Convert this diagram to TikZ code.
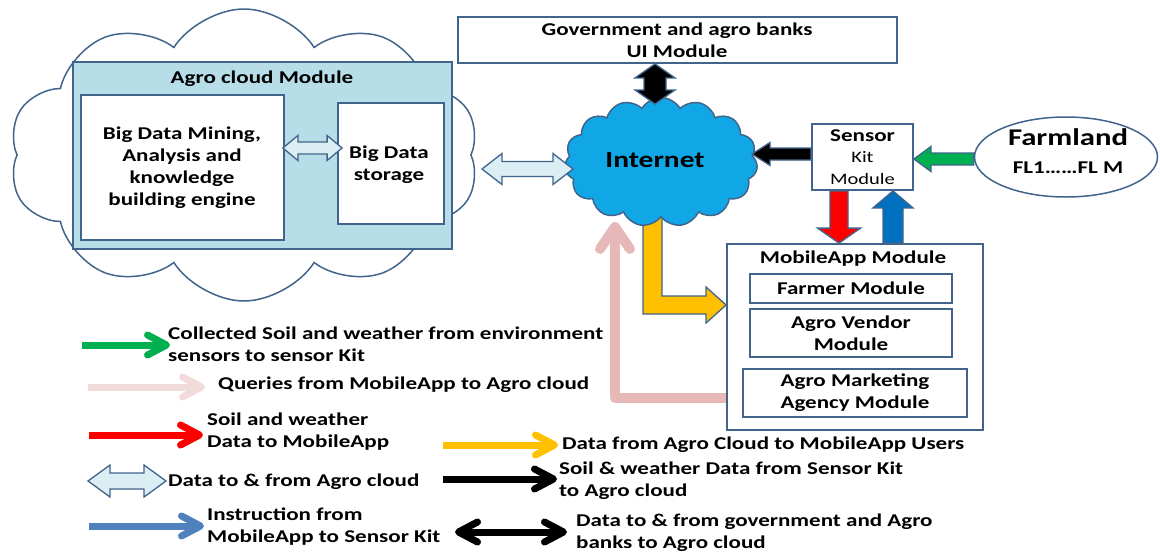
\documentclass[tikz,border=0pt]{standalone}
\usepackage{fontspec}
\setmainfont{Carlito}[FakeStretch=1.28]
\usetikzlibrary{shapes.symbols,shapes.geometric,arrows.meta,calc}
\definecolor{outl}{RGB}{65,100,140}
\definecolor{agrofill}{RGB}{183,222,232}
\definecolor{lbfill}{RGB}{219,238,244}
\definecolor{netblue}{RGB}{17,167,230}
\definecolor{grn}{RGB}{0,176,80}
\definecolor{rd}{RGB}{255,0,0}
\definecolor{upblue}{RGB}{0,112,192}
\definecolor{lgblue}{RGB}{79,129,189}
\definecolor{ylw}{RGB}{255,192,0}
\definecolor{pnk}{RGB}{230,185,184}
\definecolor{ltpnk}{RGB}{242,220,219}
% single block arrow: from, to, shaft half, head half, head length, style
\newcommand\blkarrow[6]{%
  \coordinate (hh) at ($(#2)!#5!(#1)$);
  \filldraw[#6] ($(#1)!#3!90:(#2)$) -- ($(hh)!#3!-90:(#1)$) -- ($(hh)!#4!-90:(#1)$) -- (#2)
    -- ($(hh)!#4!90:(#1)$) -- ($(hh)!#3!90:(#1)$) -- ($(#1)!#3!-90:(#2)$) -- cycle;}
% double block arrow
\newcommand\blkdarrow[6]{%
  \coordinate (ha) at ($(#1)!#5!(#2)$);
  \coordinate (hb) at ($(#2)!#5!(#1)$);
  \filldraw[#6] (#1) -- ($(ha)!#4!90:(#2)$) -- ($(ha)!#3!90:(#2)$) -- ($(hb)!#3!-90:(#1)$)
    -- ($(hb)!#4!-90:(#1)$) -- (#2) -- ($(hb)!#4!90:(#1)$) -- ($(hb)!#3!90:(#1)$)
    -- ($(ha)!#3!-90:(#2)$) -- ($(ha)!#4!-90:(#2)$) -- cycle;}
\tikzset{
  txt/.style={font=\fontsize{18}{22}\selectfont\bfseries, align=center, inner sep=0pt},
  ltxt/.style={font=\fontsize{18}{22}\selectfont\bfseries, align=left, inner sep=0pt, anchor=west},
  box/.style={draw=outl, line width=1.8pt, fill=white, rectangle, inner sep=0pt},
  blk/.style={draw=outl, line width=1.3pt, line join=miter},
  barb/.tip={Straight Barb[length=19pt,width=20pt,round]},
  legarrow/.style={line width=7pt, -barb},
  legdarrow/.style={line width=7pt, barb-barb},
}
\begin{document}
\begin{tikzpicture}[x=1pt,y=-1pt]
\useasboundingbox (0,0) rectangle (1160,555);
\fill[white] (0,0) rectangle (1160,555);

% ---- Agro cloud ----
\node[cloud, cloud puffs=10, cloud puff arc=115, cloud ignores aspect, draw=outl, line width=1.5pt, fill=white,
      minimum width=470pt, minimum height=292pt, inner sep=0pt] (bigcloud) at (244,155) {};
\node[rectangle, draw=outl, line width=1.8pt, fill=agrofill, minimum width=379pt, minimum height=187pt] (agro) at (262.5,155.5) {};
\node[txt] (agrotitle) at (262,79) {Agro cloud Module};
\node[box, minimum width=203pt, minimum height=145pt] (mining) at (182.5,167.5) {};
\node[txt] (miningtxt) at (182,168) {Big Data Mining,\\Analysis and\\knowledge\\building engine};
\node[box, minimum width=106pt, minimum height=121pt] (storage) at (391,163.5) {};
\node[txt] (storagetxt) at (389,165) {Big Data\\storage};
\coordinate (ms1) at ([xshift=-2pt]mining.east |- 0,148);
\coordinate (ms2) at ([xshift=5pt]storage.west |- 0,148);
\blkdarrow{ms1}{ms2}{6pt}{12.5pt}{15pt}{blk, fill=lbfill}

% ---- Government ----
\node[box, minimum width=439pt, minimum height=46pt] (gov) at (677.5,40) {};
\node[txt] (govtxt) at (677,40) {Government and agro banks\\UI Module};

% ---- Yellow elbow (behind internet cloud) ----
\node[rectangle, draw=outl, line width=1.8pt, fill=white, minimum width=256pt, minimum height=186pt] (mob) at (855,337) {};
\coordinate (ytip) at (mob.west |- 0,305);
\filldraw[blk, fill=ylw] (643,212) -- (643,314) -- (706,314) -- (706,323) -- (ytip) -- (706,287) -- (706,296) -- (662,296) -- (662,212) -- cycle;

% ---- Internet ----
\node[cloud, cloud puffs=15, cloud puff arc=120, cloud ignores aspect, draw=outl, line width=1.5pt, fill=netblue,
      minimum width=193pt, minimum height=129pt, inner sep=0pt] (internet) at (661,162) {};
\node[font=\fontsize{23}{26}\selectfont\bfseries, inner sep=0pt] (nettxt) at (655,160) {Internet};

\coordinate (g1) at (gov.south -| 655,0);
\coordinate (g2) at (655,104);
\blkdarrow{g1}{g2}{11pt}{20pt}{14pt}{blk, fill=black}

\coordinate (c1) at (482,169);
\coordinate (c2) at (573,169);
\blkdarrow{c1}{c2}{7.5pt}{15.5pt}{20pt}{blk, fill=lbfill}

% ---- Sensor kit ----
\node[box, minimum width=101pt, minimum height=66pt] (sensor) at (862.5,157) {};
\node[font=\fontsize{16}{21.5}\selectfont, align=center, inner sep=0pt] (sensortxt) at (862.5,157) {{\fontsize{18}{21.5}\selectfont\bfseries Sensor}\\Kit\\Module};
\coordinate (s1) at (sensor.west |- 0,154);
\coordinate (s2) at (752,154);
\blkarrow{s1}{s2}{6pt}{11.5pt}{18pt}{blk, fill=black}

% ---- Farmland ----
\node[ellipse, draw=outl, line width=1.5pt, fill=white, minimum width=183pt, minimum height=80pt, inner sep=0pt] (farm) at (1066,157) {};
\node[font=\fontsize{24}{28}\selectfont\bfseries, inner sep=0pt] (farmtxt) at (1068,137) {Farmland};
\node[txt] (fltxt) at (1068,168) {FL1……FL M};
\coordinate (f1) at (farm.west |- 0,159);
\coordinate (f2) at (sensor.east |- 0,159);
\blkarrow{f1}{f2}{6pt}{12.5pt}{17pt}{blk, fill=grn}

% ---- Sensor <-> MobileApp ----
\coordinate (r1) at (sensor.south -| 839,0);
\coordinate (r2) at (mob.north -| 839,0);
\blkarrow{r1}{r2}{9pt}{21.5pt}{15pt}{blk, fill=rd}
\coordinate (b1) at (mob.north -| 893,0);
\coordinate (b2) at (sensor.south -| 893,0);
\blkarrow{b1}{b2}{10pt}{20pt}{17pt}{blk, fill=upblue}

% ---- MobileApp ----
\node[txt] (mobtitle) at (853,259) {MobileApp Module};
\node[box, minimum width=202pt, minimum height=29pt] (farmer) at (851,288.5) {};
\node[txt] (farmertxt) at (851,288.5) {Farmer Module};
\node[box, minimum width=202pt, minimum height=48pt] (vendor) at (851,333) {};
\node[txt] (vendortxt) at (851,333) {Agro Vendor\\Module};
\node[box, minimum width=224pt, minimum height=48pt] (market) at (855,393) {};
\node[txt] (markettxt) at (855,393) {Agro Marketing\\Agency Module};

% ---- Pink query line ----
\coordinate (p1) at (mob.west |- 0,398);
\coordinate (p2) at (615,398);
\coordinate (p3) at (615,222);
\draw[pnk, line width=10pt, line join=round, -{Straight Barb[length=22pt,width=30pt,round]}] (p1) -- (p2) -- (p3);

% ---- Legend ----
\node[ltxt] (l1t) at (168,344) {Collected Soil and weather from environment\\sensors to sensor Kit};
\coordinate (l1a) at (82,345); \coordinate (l1b) at (170,345);
\draw[legarrow, grn] (l1a) -- (l1b);

\node[ltxt] (l2t) at (218,385) {Queries from MobileApp to Agro cloud};
\coordinate (l2a) at (88,387); \coordinate (l2b) at (205,387);
\draw[legarrow, ltpnk] (l2a) -- (l2b);

\node[ltxt] (l3t) at (207,432) {Soil and weather\\Data to MobileApp};
\coordinate (l3a) at (89,435); \coordinate (l3b) at (203,435);
\draw[legarrow, rd] (l3a) -- (l3b);

\node[ltxt] (l4t) at (168,482) {Data to \& from Agro cloud};
\coordinate (l4a) at (88,481); \coordinate (l4b) at (166,481);
\blkdarrow{l4a}{l4b}{8pt}{16pt}{22pt}{blk, fill=lbfill}

\node[ltxt] (l5t) at (207,527) {Instruction from\\MobileApp to Sensor Kit};
\coordinate (l5a) at (89,526); \coordinate (l5b) at (204,526);
\draw[legarrow, lgblue] (l5a) -- (l5b);

\node[ltxt] (l6t) at (562,445) {Data from Agro Cloud to MobileApp Users};
\coordinate (l6a) at (443,445); \coordinate (l6b) at (558,445);
\draw[legarrow, ylw] (l6a) -- (l6b);

\node[ltxt] (l7t) at (559,481) {Soil \& weather Data from Sensor Kit\\to Agro cloud};
\coordinate (l7a) at (443,479); \coordinate (l7b) at (557,479);
\draw[legarrow, black] (l7a) -- (l7b);

\node[ltxt] (l8t) at (576,533) {Data to \& from government and Agro\\banks to Agro cloud};
\coordinate (l8a) at (455,532); \coordinate (l8b) at (567,532);
\draw[legdarrow, black] (l8a) -- (l8b);
\end{tikzpicture}
\end{document}
